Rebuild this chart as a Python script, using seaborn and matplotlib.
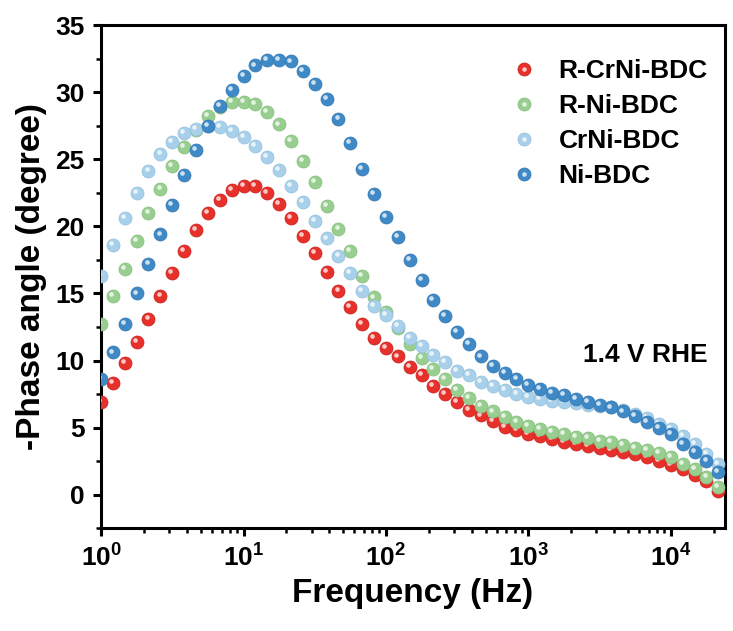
import matplotlib
matplotlib.use('Agg')
import matplotlib.pyplot as plt
import matplotlib.transforms as mtransforms
from matplotlib.lines import Line2D
from matplotlib.legend_handler import HandlerTuple
from matplotlib import ticker
import seaborn as sns
import pandas as pd

# frequency points (Hz), 12 per decade
freq = [1.0, 1.21, 1.47, 1.78, 2.15, 2.61, 3.16, 3.83, 4.64, 5.62, 6.81, 8.25,
        10.0, 12.1, 14.7, 17.8, 21.5, 26.1, 31.6, 38.3, 46.4, 56.2, 68.1, 82.5,
        100, 121, 147, 178, 215, 261, 316, 383, 464, 562, 681, 825,
        1000, 1210, 1470, 1780, 2150, 2610, 3160, 3830, 4640, 5620, 6810, 8250,
        10000, 12100, 14700, 17800, 21500]

r_crni = [6.9, 8.3, 9.8, 11.4, 13.1, 14.8, 16.5, 18.2, 19.7, 21.0, 22.0, 22.7,
          23.0, 23.0, 22.5, 21.7, 20.6, 19.3, 18.0, 16.6, 15.2, 14.0, 12.7, 11.7,
          10.9, 10.3, 9.5, 8.9, 8.1, 7.5, 6.9, 6.3, 5.9, 5.5, 5.05, 4.8,
          4.55, 4.35, 4.15, 3.95, 3.75, 3.6, 3.45, 3.3, 3.2, 3.0, 2.8, 2.5,
          2.2, 1.9, 1.5, 1.05, 0.3]

r_ni = [12.7, 14.8, 16.8, 18.9, 21.0, 22.8, 24.5, 25.9, 27.2, 28.2, 28.9, 29.3,
        29.3, 29.1, 28.5, 27.6, 26.4, 24.9, 23.3, 21.5, 19.8, 18.2, 16.3, 14.7,
        13.6, 12.4, 11.2, 10.2, 9.4, 8.6, 7.8, 7.2, 6.6, 6.2, 5.8, 5.4,
        5.1, 4.9, 4.7, 4.5, 4.3, 4.2, 4.0, 3.9, 3.7, 3.5, 3.3, 3.1,
        2.8, 2.3, 1.9, 1.3, 0.6]

crni = [16.3, 18.6, 20.6, 22.5, 24.1, 25.4, 26.3, 27.0, 27.3, 27.5, 27.4, 27.1,
        26.7, 26.0, 25.2, 24.2, 23.0, 21.8, 20.4, 19.1, 17.8, 16.5, 15.2, 14.1,
        13.4, 12.6, 11.7, 11.1, 10.4, 9.9, 9.2, 8.9, 8.4, 8.1, 7.8, 7.5,
        7.3, 7.1, 7.0, 6.9, 6.8, 6.7, 6.6, 6.5, 6.3, 6.0, 5.7, 5.3,
        4.9, 4.4, 3.8, 3.0, 2.3]

ni = [8.6, 10.6, 12.7, 15.0, 17.2, 19.4, 21.6, 23.8, 25.7, 27.5, 29.0, 30.2,
      31.2, 32.0, 32.4, 32.4, 32.3, 31.6, 30.6, 29.5, 28.0, 26.2, 24.3, 22.4,
      20.7, 19.2, 17.5, 16.0, 14.5, 13.3, 12.1, 11.2, 10.3, 9.6, 9.05, 8.6,
      8.2, 7.9, 7.6, 7.4, 7.1, 6.9, 6.7, 6.5, 6.2, 5.85, 5.4, 5.0,
      4.5, 3.8, 3.2, 2.5, 1.7]

labels = ['R-CrNi-BDC', 'R-Ni-BDC', 'CrNi-BDC', 'Ni-BDC']
colors = ['#e8302a', '#98cf90', '#a8d0ea', '#3f8ac6']
edges = ['#c42520', '#84bd7c', '#92bfdc', '#3478b2']

df = pd.concat([pd.DataFrame({'freq': freq, 'phase': v, 'sample': lab})
                for v, lab in zip([r_crni, r_ni, crni, ni], labels)],
               ignore_index=True)

sns.set_style('ticks')
plt.rcParams['font.family'] = ['Liberation Sans', 'DejaVu Sans']
plt.rcParams['font.weight'] = 'bold'
plt.rcParams['mathtext.default'] = 'bf'
for k in ['text.color', 'axes.labelcolor', 'xtick.color', 'ytick.color']:
    plt.rcParams[k] = 'black'

fig = plt.figure(figsize=(7.33, 6.31), dpi=100)
ax = fig.add_axes([0.138, 0.163, 0.851, 0.797])

# balls with a small highlight to mimic the shaded markers
hl = mtransforms.offset_copy(ax.transData, fig=fig, x=-1.4, y=1.4, units='points')
for lab, c, e in zip(labels, colors, edges):
    sub = df[df['sample'] == lab]
    sns.scatterplot(data=sub, x='freq', y='phase', color=c, edgecolor=e,
                    linewidth=0.5, s=88, ax=ax, legend=False, zorder=3)
    ax.scatter(sub['freq'], sub['phase'], s=11, color='white', alpha=0.75,
               linewidths=0, transform=hl, zorder=3)

ax.set_xscale('log')
ax.set_xlim(1, 2.4e4)
ax.set_ylim(-2.5, 35)
ax.yaxis.set_major_locator(ticker.MultipleLocator(5))
ax.yaxis.set_minor_locator(ticker.MultipleLocator(2.5))
ax.xaxis.set_major_locator(ticker.LogLocator(base=10))
ax.xaxis.set_major_formatter(ticker.LogFormatterMathtext())
ax.xaxis.set_minor_locator(ticker.LogLocator(base=10, subs=range(2, 10)))
ax.xaxis.set_minor_formatter(ticker.NullFormatter())

for sp in ax.spines.values():
    sp.set_linewidth(2.2)
    sp.set_color('black')
ax.tick_params(axis='both', which='major', direction='out', length=6, width=2.2,
               labelsize=19, pad=6)
ax.tick_params(axis='both', which='minor', direction='out', length=3.5, width=1.8)
ax.tick_params(top=False, right=False, which='both')
for t in ax.get_xticklabels() + ax.get_yticklabels():
    t.set_fontweight('bold')

ax.set_xlabel('Frequency (Hz)', fontsize=24, fontweight='bold', labelpad=4)
ax.set_ylabel('-Phase angle (degree)', fontsize=24, fontweight='bold', labelpad=6)

ax.text(0.973, 0.345, '1.4 V RHE', transform=ax.transAxes, ha='right', va='center',
        fontsize=19, fontweight='bold')

handles = []
for c, e in zip(colors, edges):
    base = Line2D([], [], marker='o', linestyle='none', markersize=9.4,
                  markerfacecolor=c, markeredgecolor=e, markeredgewidth=0.5)
    spot = Line2D([], [], marker='o', linestyle='none', markersize=3.3,
                  markerfacecolor='white', markeredgewidth=0, alpha=0.75)
    handles.append((base, spot))
leg = ax.legend(handles, labels, handler_map={tuple: HandlerTuple(ndivide=1)},
                loc='upper left', bbox_to_anchor=(0.615, 0.98), frameon=False,
                prop={'size': 19, 'weight': 'bold'}, handletextpad=0.7,
                labelspacing=0.42, handlelength=1.2)

fig.savefig('out.png', dpi=100)
